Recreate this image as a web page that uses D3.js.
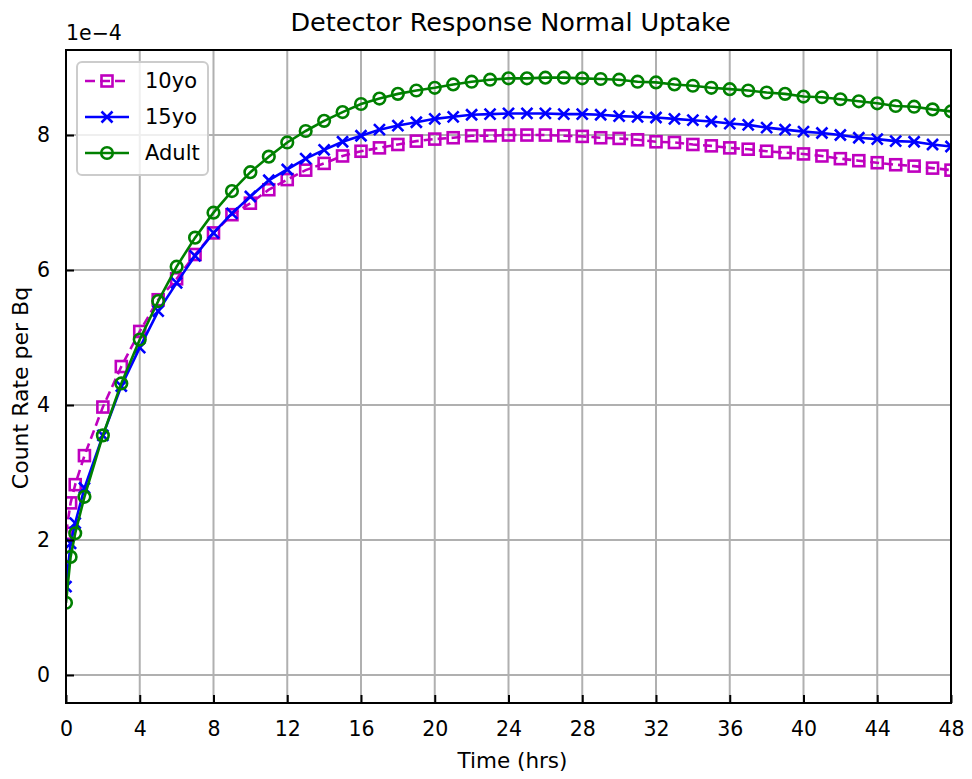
<!DOCTYPE html>
<html>
<head>
<meta charset="utf-8">
<script src="https://cdn.jsdelivr.net/npm/d3@7/dist/d3.min.js"></script>
<style>
  html, body { margin: 0; padding: 0; background: #fff; }
  svg { display: block; font-family: "DejaVu Sans", sans-serif; }
</style>
</head>
<body>
<svg id="chart" width="972" height="779"></svg>
<script>
// ---------------- data ----------------
const times = [0, 0.25, 0.5, 1, 2, 3, 4, 5, 6, 7, 8, 9, 10, 11, 12, 13, 14, 15, 16, 17, 18, 19, 20,
  21, 22, 23, 24, 25, 26, 27, 28, 29, 30, 31, 32, 33, 34, 35, 36, 37, 38, 39, 40, 41, 42, 43, 44, 45, 46, 47, 48];

const yo10 = [2.10, 2.55, 2.82, 3.25, 3.97, 4.57, 5.09, 5.56, 5.87, 6.23, 6.55, 6.82, 6.99, 7.19, 7.34, 7.48, 7.58, 7.69, 7.76, 7.81,
  7.86, 7.91, 7.94, 7.96, 7.99, 7.99, 8.00, 8.00, 8.00, 7.99, 7.98, 7.96, 7.95, 7.93, 7.90, 7.89, 7.86, 7.84, 7.81, 7.79,
  7.76, 7.74, 7.72, 7.69, 7.65, 7.62, 7.59, 7.56, 7.54, 7.51, 7.48];

const yo15 = [1.31, 1.95, 2.25, 2.77, 3.55, 4.28, 4.85, 5.39, 5.81, 6.21, 6.55, 6.84, 7.09, 7.33, 7.49, 7.65, 7.78, 7.90, 7.99, 8.08,
  8.14, 8.19, 8.24, 8.27, 8.30, 8.31, 8.32, 8.32, 8.32, 8.31, 8.31, 8.30, 8.28, 8.27, 8.26, 8.24, 8.22, 8.20, 8.17, 8.15,
  8.11, 8.08, 8.05, 8.03, 8.00, 7.96, 7.94, 7.91, 7.90, 7.86, 7.83];

const adult = [1.07, 1.75, 2.10, 2.64, 3.55, 4.32, 4.97, 5.54, 6.05, 6.48, 6.85, 7.17, 7.45, 7.68, 7.89, 8.06, 8.21, 8.34, 8.46, 8.54,
  8.61, 8.66, 8.70, 8.75, 8.79, 8.82, 8.84, 8.84, 8.85, 8.85, 8.84, 8.83, 8.82, 8.79, 8.78, 8.75, 8.73, 8.70, 8.68, 8.66,
  8.63, 8.61, 8.57, 8.56, 8.53, 8.50, 8.47, 8.43, 8.42, 8.38, 8.35];

const seriesNames = ["10yo", "15yo", "Adult"];
const xTicks = [0, 4, 8, 12, 16, 20, 24, 28, 32, 36, 40, 44, 48];
const yTicks = [0, 2, 4, 6, 8];
const titleText = "Detector Response Normal Uptake";
const xLabelText = "Time (hrs)";
const yLabelText = "Count Rate per Bq";
const offsetText = "1e\u22124";

// ---------------- layout ----------------
const svg = d3.select("#chart");
const L = 66, R = 951, T = 50, B = 703;

const x = d3.scaleLinear().domain([0, 48]).range([L, R]);
const y = d3.scaleLinear().domain([-0.415, 9.26]).range([B, T]);

const styles = [
  { color: "#bf00bf", dash: "9,5", marker: "square" },
  { color: "#0000ff", dash: null, marker: "x" },
  { color: "#008000", dash: null, marker: "circle" }
];
const allSeries = [yo10, yo15, adult];

// clip
svg.append("defs").append("clipPath").attr("id", "clip")
  .append("rect").attr("x", L).attr("y", T).attr("width", R - L).attr("height", B - T);

// grid
const grid = svg.append("g");
grid.selectAll("line.gx").data(xTicks).join("line")
  .attr("x1", d => x(d)).attr("x2", d => x(d)).attr("y1", T).attr("y2", B)
  .attr("stroke", "#b0b0b0").attr("stroke-width", 2);
grid.selectAll("line.gy").data(yTicks).join("line").attr("class", "gy")
  .attr("y1", d => y(d)).attr("y2", d => y(d)).attr("x1", L).attr("x2", R)
  .attr("stroke", "#b0b0b0").attr("stroke-width", 2);

// series
function drawMarker(g, type, color) {
  if (type === "square") {
    g.append("rect").attr("x", -5.5).attr("y", -5.5).attr("width", 11).attr("height", 11)
      .attr("fill", "none").attr("stroke", color).attr("stroke-width", 2.6);
  } else if (type === "circle") {
    g.append("circle").attr("r", 5.8).attr("fill", "none").attr("stroke", color).attr("stroke-width", 2.6);
  } else {
    g.append("path").attr("d", "M-5.5,-5.5L5.5,5.5M-5.5,5.5L5.5,-5.5").attr("stroke", color).attr("stroke-width", 2.6).attr("fill", "none");
  }
}

const plot = svg.append("g").attr("clip-path", "url(#clip)");
const line = d3.line().x((d, i) => x(times[i])).y(d => y(d));

allSeries.forEach((vals, si) => {
  const st = styles[si];
  plot.append("path").datum(vals).attr("d", line)
    .attr("fill", "none").attr("stroke", st.color).attr("stroke-width", 2.6)
    .attr("stroke-dasharray", st.dash);
  vals.forEach((v, i) => {
    const g = plot.append("g").attr("transform", `translate(${x(times[i])},${y(v)})`);
    drawMarker(g, st.marker, st.color);
  });
});

// axes (ticks inward)
const xAxis = d3.axisBottom(x).tickValues(xTicks).tickSize(-8).tickPadding(18).tickFormat(d3.format("d"));
const yAxis = d3.axisLeft(y).tickValues(yTicks).tickSize(-8).tickPadding(16).tickFormat(d3.format("d"));

const gx = svg.append("g").attr("transform", `translate(0,${B})`).call(xAxis);
const gy = svg.append("g").attr("transform", `translate(${L},0)`).call(yAxis);
[gx, gy].forEach(g => {
  g.select(".domain").remove();
  g.selectAll(".tick line").attr("stroke", "#000").attr("stroke-width", 2);
  g.selectAll(".tick text").attr("fill", "#000").attr("font-size", 20.5).attr("font-family", "DejaVu Sans");
});

// frame
svg.append("rect").attr("x", L).attr("y", T).attr("width", R - L).attr("height", B - T)
  .attr("fill", "none").attr("stroke", "#000").attr("stroke-width", 2);

// texts
svg.append("text").attr("x", (L + R) / 2 + 2).attr("y", 31).attr("text-anchor", "middle")
  .attr("font-size", 25.5).text(titleText);
svg.append("text").attr("x", L).attr("y", 40).attr("text-anchor", "start")
  .attr("font-size", 20.5).text(offsetText);
svg.append("text").attr("x", (L + R) / 2 + 4).attr("y", 768).attr("text-anchor", "middle")
  .attr("font-size", 21.5).text(xLabelText);
svg.append("text").attr("transform", "translate(28,388) rotate(-90)").attr("text-anchor", "middle")
  .attr("font-size", 22).text(yLabelText);

// legend
const lg = svg.append("g");
lg.append("rect").attr("x", 77).attr("y", 62).attr("width", 131).attr("height", 113).attr("rx", 5)
  .attr("fill", "#fff").attr("fill-opacity", 0.8).attr("stroke", "#cccccc").attr("stroke-width", 2);
seriesNames.forEach((name, i) => {
  const st = styles[i];
  const cy = 81 + i * 36;
  lg.append("line").attr("x1", 85).attr("x2", 129).attr("y1", cy).attr("y2", cy)
    .attr("stroke", st.color).attr("stroke-width", 2.6).attr("stroke-dasharray", st.dash ? "10,5" : null);
  const g = lg.append("g").attr("transform", `translate(107,${cy})`);
  drawMarker(g, st.marker, st.color);
  lg.append("text").attr("x", 145).attr("y", cy + 7).attr("font-size", 21).text(name);
});
</script>
</body>
</html>
